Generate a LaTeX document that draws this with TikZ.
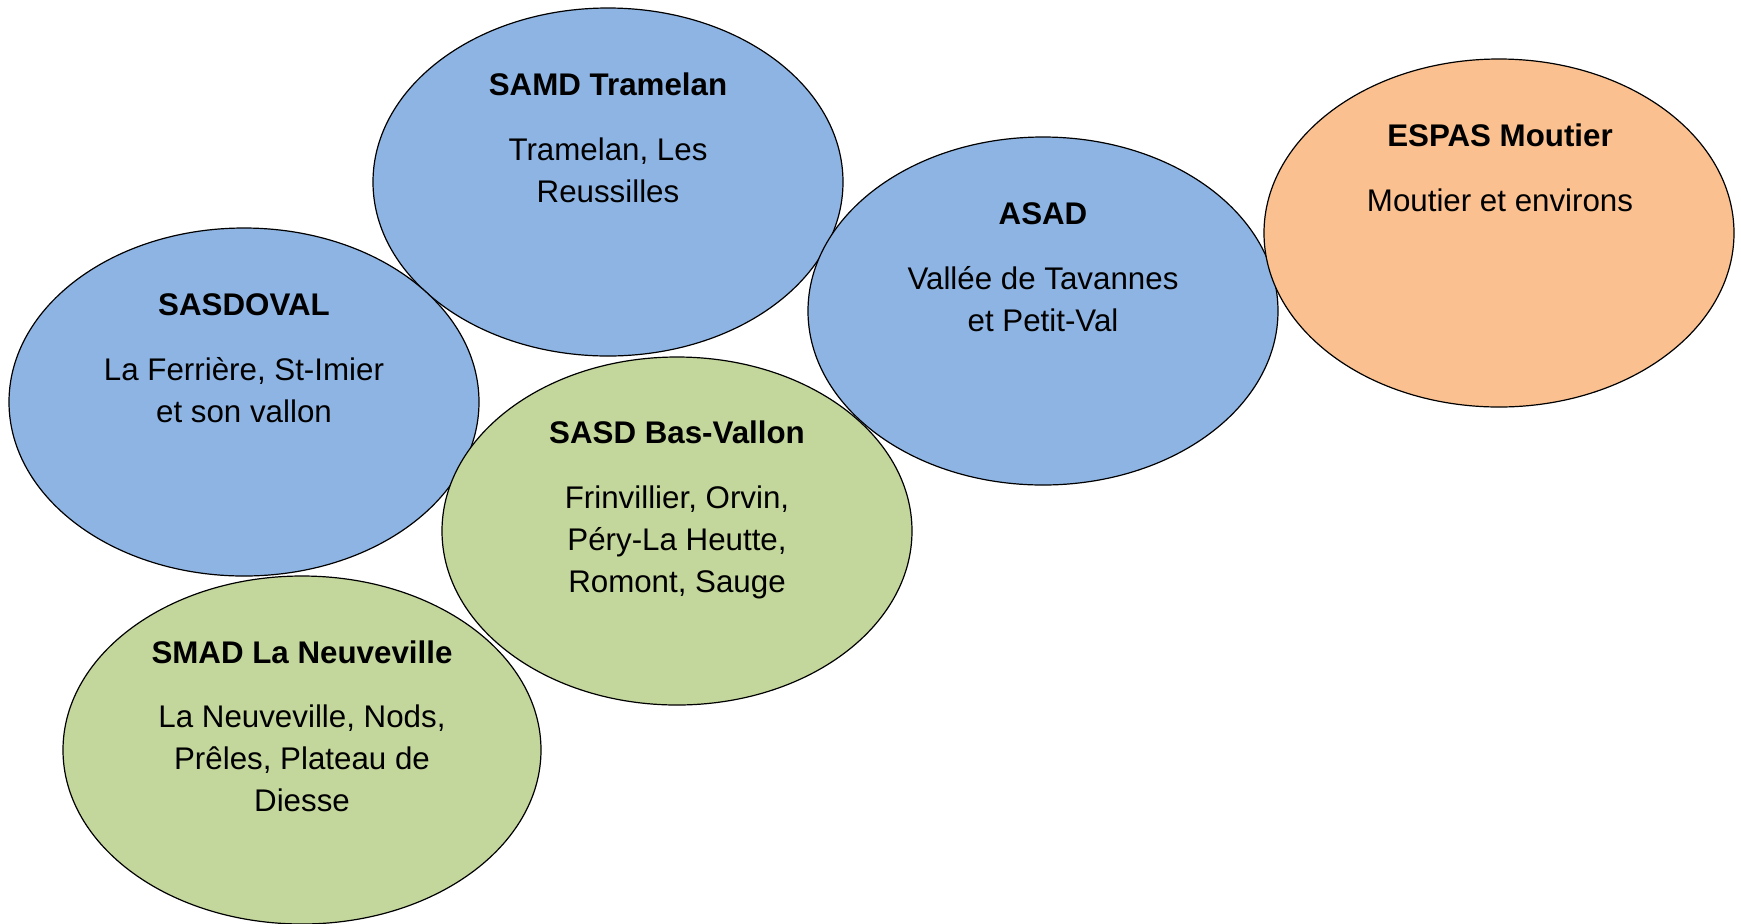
\documentclass[tikz,border=0pt]{standalone}
\usepackage{fontspec}
\setmainfont{Liberation Sans}
\usetikzlibrary{shapes.geometric}
\definecolor{cblue}{HTML}{8EB4E3}
\definecolor{cgreen}{HTML}{C3D69B}
\definecolor{corange}{HTML}{FAC090}
\begin{document}
\begin{tikzpicture}[x=0.5pt,y=-0.5pt,
  oval/.style={ellipse,draw=black,line width=0.6pt,inner sep=0pt,minimum width=235pt,minimum height=174pt},
  ttl/.style={anchor=base,inner sep=0pt,font=\fontsize{15.65pt}{21pt}\selectfont\bfseries},
  body/.style={anchor=base,inner sep=0pt,align=center,font=\fontsize{15.65pt}{21pt}\selectfont}]
\useasboundingbox (0,0) rectangle (1741,923);
\fill[white] (0,0) rectangle (1741,923);
\node[oval,fill=cblue] (samd) at (608,182) {};
\node[oval,fill=cblue] (sasdoval) at (244,402) {};
\node[oval,fill=cblue] (asad) at (1043,311) {};
\node[oval,fill=cgreen,minimum width=239pt] (smad) at (302,750) {};
\node[oval,fill=cgreen] (basvallon) at (677,531) {};
\node[oval,fill=corange] (espas) at (1499,233) {};
\node[ttl] (t1) at (608,95) {SAMD Tramelan};
\node[body] (b1) at (608,202) {Tramelan, Les\\Reussilles};
\node[ttl] (t2) at (244,315) {SASDOVAL};
\node[body] (b2) at (244,422) {La Ferrière, St-Imier\\et son vallon};
\node[ttl] (t3) at (677,443) {SASD Bas-Vallon};
\node[body] (b3) at (677,592) {Frinvillier, Orvin,\\Péry-La Heutte,\\Romont, Sauge};
\node[ttl] (t4) at (302,663) {SMAD La Neuveville};
\node[body] (b4) at (302,811) {La Neuveville, Nods,\\Prêles, Plateau de\\Diesse};
\node[ttl] (t5) at (1043,224) {ASAD};
\node[body] (b5) at (1043,331) {Vallée de Tavannes\\et Petit-Val};
\node[ttl] (t6) at (1500,146) {ESPAS Moutier};
\node[body] (b6) at (1500,211) {Moutier et environs};
\end{tikzpicture}
\end{document}
